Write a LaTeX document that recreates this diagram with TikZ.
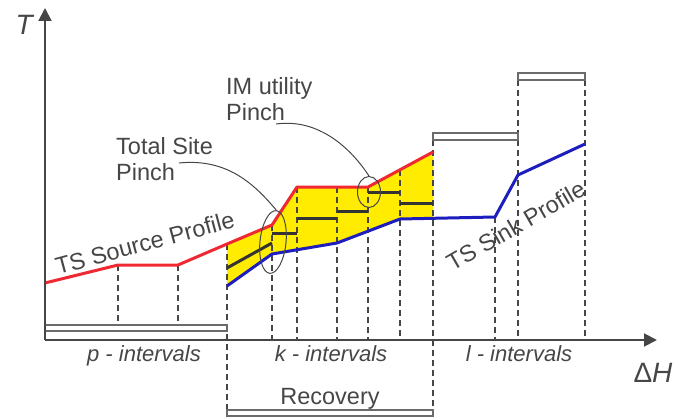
\documentclass[tikz,border=0pt]{standalone}
\usepackage{fontspec}
\setmainfont{Liberation Sans}
\usepackage{xcolor}
\usetikzlibrary{shapes.geometric, arrows.meta, positioning, calc}

\definecolor{srcred}{RGB}{240,40,50}
\definecolor{sinkblue}{RGB}{30,30,190}
\definecolor{pinchyellow}{RGB}{255,236,0}
\definecolor{axisgray}{RGB}{70,70,70}

\begin{document}
\begin{tikzpicture}[
    x=1pt, y=-1pt,
    axis/.style={draw=axisgray, line width=2pt, -{Triangle[length=13pt, width=13pt]}},
    source/.style={draw=srcred, line width=3pt, line join=round},
    sink/.style={draw=sinkblue, line width=3pt, line join=round},
    grid/.style={draw=axisgray, line width=1.4pt, dash pattern=on 6pt off 4pt},
    band/.style={draw=axisgray!80, line width=1.5pt, fill=white},
    level/.style={draw=black!80, line width=3pt},
    ring/.style={ellipse, draw=axisgray, line width=1pt, inner sep=0pt},
    lead/.style={draw=axisgray, line width=1pt},
    lbl/.style={font=\fontsize{23.5}{26}\selectfont, text=axisgray, inner sep=0pt},
    ivl/.style={lbl, font=\fontsize{22}{25}\selectfont\itshape},
    axlbl/.style={lbl, font=\fontsize{28}{30}\selectfont},
  ]
  \useasboundingbox (0,0) rectangle (688,417);

  % heat recovery region between the two profiles
  \fill[pinchyellow] (227,244) -- (272,225) -- (297,187) -- (368,187) -- (433,152)
    -- (433,219) -- (400,219) -- (337,243) -- (272,254) -- (227,286) -- cycle;

  % interval boundaries
  \foreach \xx/\ytop/\ybot in {118/265/325, 178/265/325, 227/244/410, 272/225/340,
      297/187/340, 337/187/340, 368/187/340, 400/170/340, 433/140/410,
      495/217/340, 518/80/340, 585/80/340}
    \draw[grid] (\xx,\ytop) -- (\xx,\ybot);

  % utility levels
  \draw[level] (227,268) -- (272,243);
  \draw[level] (272,233) -- (297,233);
  \draw[level] (297,218) -- (337,218);
  \draw[level] (337,211) -- (368,211);
  \draw[level] (368,192) -- (400,192);
  \draw[level] (400,203) -- (433,203);

  % site profiles
  \draw[source] (45,283) -- (118,265) -- (178,265) -- (227,244) -- (272,225)
    -- (297,187) -- (368,187) -- (433,152);
  \draw[sink] (227,286) -- (272,254) -- (337,243) -- (400,219) -- (495,217)
    -- (518,175) -- (585,144);

  \draw[band] (45,325) rectangle (227,331);
  \draw[band] (433,133) rectangle (518,140);
  \draw[band] (518,73) rectangle (585,80);
  \draw[band] (227,410) rectangle (433,416);

  \draw[axis] (45,340) -- (45,8);
  \draw[axis] (45,340) -- (657,340);

  \node[axlbl, anchor=base] (tlab) at (25,35) {\textit{T}};
  \node[axlbl, anchor=base] (dhlab) at (653,382) {Δ\textit{H}};
  \node[ivl, anchor=base] (pint) at (144,361) {p - intervals};
  \node[ivl, anchor=base] (kint) at (331,361) {k - intervals};
  \node[ivl, anchor=base] (lint) at (519,361) {l - intervals};
  \node[lbl, anchor=base] (rec) at (330,404) {Recovery};
  \node[lbl, anchor=base, rotate=15] (srclab) at (147,251) {TS Source Profile};
  \node[lbl, anchor=base, rotate=30] (sinklab) at (520,233) {TS Sink Profile};

  % pinch markers
  \node[lbl, align=left, anchor=north west] (tsp) at (116,137) {Total Site\\Pinch};
  \node[lbl, align=left, anchor=north west] (imp) at (226,77) {IM utility\\Pinch};
  \node[ring, minimum width=26pt, minimum height=63pt, rotate=-6] (tsring) at (273,242) {};
  \node[ring, minimum width=23pt, minimum height=31pt] (imring) at (369,192) {};
  \coordinate (tsfoot) at (179,163);
  \coordinate (imfoot) at (276,124);
  \draw[lead] (tsfoot) .. controls (228,158) and (255,185) .. (tsring.north);
  \draw[lead] (imfoot) .. controls (320,118) and (352,150) .. (imring.north);
\end{tikzpicture}
\end{document}
